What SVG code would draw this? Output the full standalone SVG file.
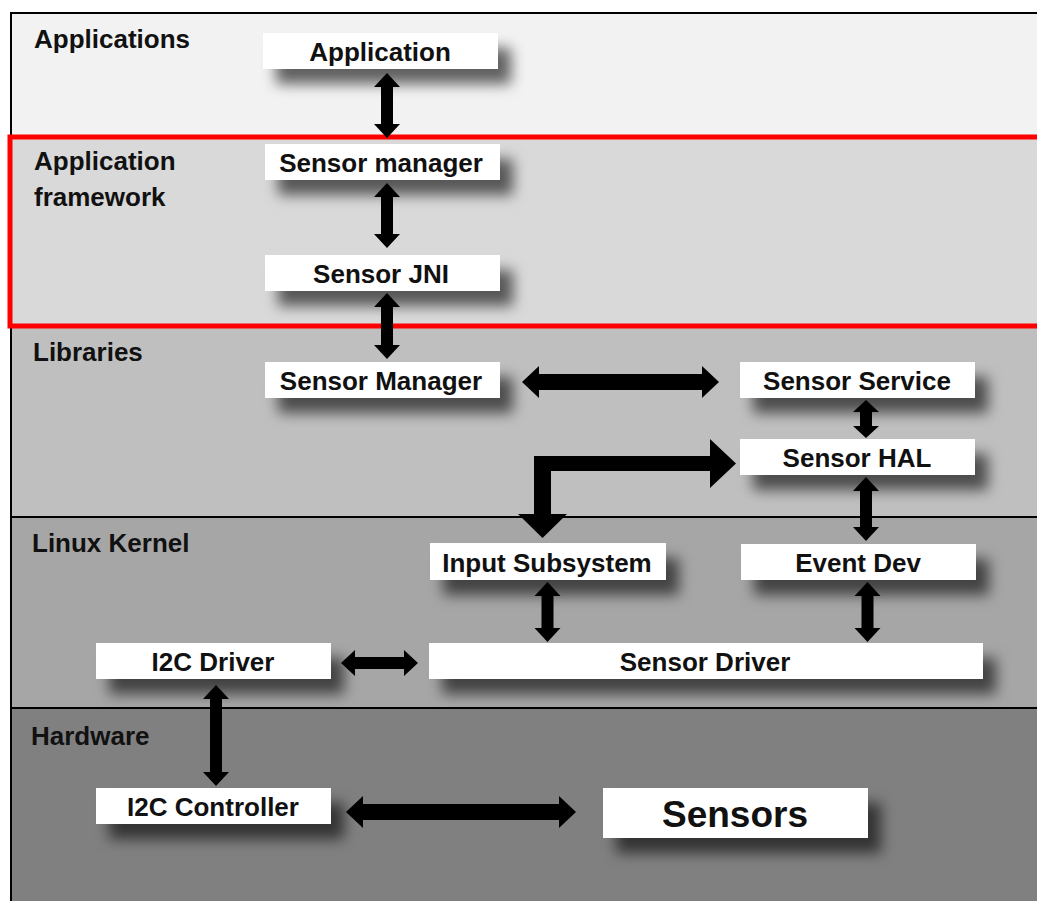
<svg xmlns="http://www.w3.org/2000/svg" width="1037" height="901" viewBox="0 0 1037 901">
<style>
.band{stroke:#000;stroke-width:2}
.box{fill:#fff;filter:url(#sh)}
.lbl{font-family:"Liberation Sans",Arial,sans-serif;font-weight:bold;font-size:26px;fill:#111}
.t{font-family:"Liberation Sans",Arial,sans-serif;font-weight:bold;font-size:26px;fill:#111;text-anchor:middle}
.big{font-size:37px}
.arr{fill:#000}
</style>
<defs>
<filter id="sh" x="-20%" y="-60%" width="160%" height="300%">
<feGaussianBlur in="SourceAlpha" stdDeviation="7"/>
<feOffset dx="13" dy="15" result="b"/>
<feFlood flood-color="#000" flood-opacity="0.6"/>
<feComposite in2="b" operator="in" result="s"/>
<feMerge><feMergeNode in="s"/><feMergeNode in="SourceGraphic"/></feMerge>
</filter>
</defs>
<rect width="1037" height="901" fill="#fff"/>
<g id="layers">
<rect class="band" x="11" y="13" width="1040" height="124" fill="#f2f2f2"/>
<rect class="band" x="11" y="137" width="1040" height="189" fill="#d9d9d9"/>
<rect class="band" x="11" y="326" width="1040" height="191" fill="#bfbfbf"/>
<rect class="band" x="11" y="517" width="1040" height="191" fill="#a6a6a6"/>
<rect class="band" x="11" y="708" width="1040" height="200" fill="#808080"/>
<rect x="10" y="137" width="1040" height="189" fill="none" stroke="#ff0000" stroke-width="5"/>
<text class="lbl" x="34" y="48">Applications</text>
<text class="lbl" x="34" y="170">Application</text>
<text class="lbl" x="34" y="206">framework</text>
<text class="lbl" x="33" y="361">Libraries</text>
<text class="lbl" x="32" y="552">Linux Kernel</text>
<text class="lbl" x="31" y="745">Hardware</text>
</g>
<g id="n-application"><rect class="box" x="263" y="33" width="235" height="36"/><text class="t" x="380" y="61">Application</text></g>
<g id="n-sensor-manager-fw"><rect class="box" x="265" y="144" width="235" height="36"/><text class="t" x="381" y="172">Sensor manager</text></g>
<g id="n-sensor-jni"><rect class="box" x="265" y="255" width="235" height="36"/><text class="t" x="381" y="283">Sensor JNI</text></g>
<g id="n-sensor-manager-lib"><rect class="box" x="265" y="362" width="235" height="36"/><text class="t" x="381" y="390">Sensor Manager</text></g>
<g id="n-sensor-service"><rect class="box" x="740" y="362" width="235" height="36"/><text class="t" x="857" y="390">Sensor Service</text></g>
<g id="n-sensor-hal"><rect class="box" x="740" y="439" width="235" height="36"/><text class="t" x="857" y="467">Sensor HAL</text></g>
<g id="n-input-subsystem"><rect class="box" x="430" y="543" width="236" height="37"/><text class="t" x="547" y="572">Input Subsystem</text></g>
<g id="n-event-dev"><rect class="box" x="741" y="544" width="235" height="36"/><text class="t" x="858" y="572">Event Dev</text></g>
<g id="n-sensor-driver"><rect class="box" x="429" y="643" width="554" height="36"/><text class="t" x="705" y="671">Sensor Driver</text></g>
<g id="n-i2c-driver"><rect class="box" x="96" y="643" width="235" height="36"/><text class="t" x="213" y="671">I2C Driver</text></g>
<g id="n-i2c-controller"><rect class="box" x="96" y="788" width="235" height="36"/><text class="t" x="213" y="816">I2C Controller</text></g>
<g id="n-sensors"><rect class="box" x="603" y="788" width="265" height="50"/><text class="t big" x="735" y="827">Sensors</text></g>
<g id="connectors" class="arr">
<polygon points="387,73 400,87 393,87 393,124 400,124 387,138 374,124 381,124 381,87 374,87"/>
<polygon points="387,183 400,197 393,197 393,234 400,234 387,248 374,234 381,234 381,197 374,197"/>
<polygon points="387,293 400,307 393,307 393,345 400,345 387,359 374,345 381,345 381,307 374,307"/>
<polygon points="522,382 539,366 539,374 702,374 702,366 719,382 702,398 702,390 539,390 539,398"/>
<polygon points="866,400 879,412 872,412 872,426 879,426 866,438 853,426 860,426 860,412 853,412"/>
<polygon points="866,477 879,491 872,491 872,527 879,527 866,541 853,527 860,527 860,491 853,491"/>
<polygon points="534,456 710,456 710,439 736,463.5 710,488 710,471 551,471 551,514 567,514 542.5,538 518,514 534,514"/>
<polygon points="547.5,582 560.5,596 553.5,596 553.5,628 560.5,628 547.5,642 534.5,628 541.5,628 541.5,596 534.5,596"/>
<polygon points="867.5,582 880.5,596 873.5,596 873.5,628 880.5,628 867.5,642 854.5,628 861.5,628 861.5,596 854.5,596"/>
<polygon points="341,663 355,650 355,657 404,657 404,650 418,663 404,676 404,669 355,669 355,676"/>
<polygon points="216,685 229,699 222,699 222,772 229,772 216,786 203,772 210,772 210,699 203,699"/>
<polygon points="346,812 363,796 363,804 559,804 559,796 576,812 559,828 559,820 363,820 363,828"/>
</g>
</svg>
